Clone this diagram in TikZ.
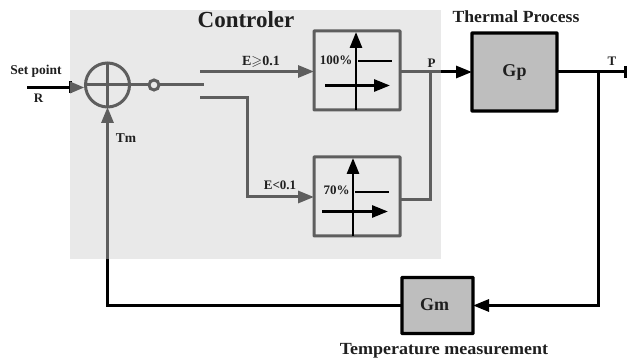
\documentclass[tikz,border=0pt]{standalone}
\usepackage{amssymb}
\usepackage{fontspec}
\setmainfont{Liberation Serif}
\usetikzlibrary{arrows.meta,calc}
\definecolor{ctl}{HTML}{E9E9E9}
\definecolor{gl}{HTML}{5E5E5E}
\definecolor{bl}{HTML}{BEBEBE}
\tikzset{
  lab/.style={font=\bfseries\fontsize{#1}{#1}\selectfont,inner sep=0pt,text=black!88},
  graybox/.style={draw=gl,line width=3pt,minimum width=86pt,minimum height=79pt,outer sep=0pt,rounded corners=0.6pt},
  blackbox/.style={draw=black,fill=bl,line width=3.4pt,outer sep=0pt,rounded corners=0.6pt},
  gline/.style={draw=gl,line width=3pt},
  kline/.style={draw=black,line width=3pt},
  ktip/.style={-{Triangle[length=16pt,width=12pt]}},
  gtip/.style={-{Triangle[length=16pt,width=12pt]}},
  ink/.style={draw=black,line width=2.8pt},
  inktip/.style={-{Triangle[length=16pt,width=12pt]}},
}
\begin{document}
\begin{tikzpicture}[x=1pt,y=-1pt]
\useasboundingbox (0,0) rectangle (627,363);
\fill[ctl] (70,10) rectangle (441,259);
% nodes
\node[circle,draw=gl,line width=3pt,minimum size=44pt,inner sep=0pt,outer sep=0pt] (sum) at (107.5,85) {};
\node[circle,draw=gl,line width=3pt,minimum size=10pt,inner sep=0pt,outer sep=0pt] (sw) at (154,85) {};
\node[graybox] (on) at (357,70.5) {};
\node[graybox] (off) at (357,196.5) {};
\node[blackbox,minimum width=85pt,minimum height=78pt] (gp) at (514.5,72) {};
\node[blackbox,minimum width=71pt,minimum height=56pt] (gm) at (437.5,305.5) {};
% coordinates
\coordinate (in) at (27,87.5);
\coordinate (inb) at (70,87.5);
\coordinate (swe) at (204,85);
\coordinate (ua) at (200,71.5);
\coordinate (la) at (200,97.5);
\coordinate (lb) at (247,97.5);
\coordinate (lc) at (247,197);
\coordinate (pj) at (430,72);
\coordinate (pb) at (441,72);
\coordinate (po) at (430,200);
\coordinate (tj) at (598.5,72);
\coordinate (tend) at (625,72);
\coordinate (td) at (598.5,305.5);
\coordinate (fbc) at (107.5,305.5);
\coordinate (fbe) at (107.5,259);
% relay glyph end points
\coordinate (ov0) at (356,110);
\coordinate (ov1) at (356,32);
\coordinate (oh0) at (358,61);
\coordinate (oh1) at (392,61);
\coordinate (oa0) at (325,85.5);
\coordinate (oa1) at (390,85.5);
\coordinate (fv0) at (353,236);
\coordinate (fv1) at (353,158);
\coordinate (fh0) at (355,192);
\coordinate (fh1) at (389,192);
\coordinate (fa0) at (322,211.5);
\coordinate (fa1) at (388,211.5);
% sum cross
\draw[gline] (sum.north) -- (sum.south);
\draw[gline] (sum.west) -- (sum.east);
% input
\draw[kline] (in) -- (inb);
\draw[draw=black,line width=1pt,fill=black] (69,81.5) rectangle (71,93);
\fill[gl] (84,87.5) -- (70,81.5) -- (70,93.5) -- cycle;
% switch
\draw[gline] (sum.east) -- (sw.west);
\draw[gline] (sw.east) -- (swe);
\draw[gline,gtip] (ua) -- (ua -| on.west);
\draw[gline,gtip] (la) -- (lb) -- (lc) -- (lc -| off.west);
% outputs
\draw[gline] (on.east |- pj) -- (pb);
\draw[gline] (off.east |- po) -- (po) -- (pj);
\draw[kline,ktip] (pb) -- (gp.west);
% plant
\draw[kline] (gp.east) -- (tend);
\draw[draw=black,line width=3pt] (625,66) -- (625,78);
\draw[kline,ktip] (tj) -- (td) -- (gm.east);
\draw[kline] (gm.west) -- (fbc) -- (fbe);
\draw[gline,gtip] (fbe) -- (sum.south);
% relay glyphs
\draw[ink,inktip] (ov0) -- (ov1);
\draw[ink] (oh0) -- (oh1);
\draw[ink,inktip] (oa0) -- (oa1);
\draw[ink,inktip] (fv0) -- (fv1);
\draw[ink] (fh0) -- (fh1);
\draw[ink,inktip] (fa0) -- (fa1);
% texts
\node[lab=23] at (246,20) {Controler};
\node[lab=17,xscale=1.04] at (516,17) {Thermal Process};
\node[lab=13.5] at (36,71) {Set point};
\node[lab=13] at (38.5,98) {R};
\node[lab=13.5] at (126,138.5) {Tm};
\node[lab=14] at (261,61.5) {E$\geqslant$0.1};
\node[lab=13] at (280,185.5) {E<0.1};
\node[lab=13] at (336,60) {100\%};
\node[lab=13] at (336.5,190.5) {70\%};
\node[lab=13] at (431.5,63) {P};
\node[lab=13] at (612,61) {T};
\node[lab=18] at (514.5,72) {Gp};
\node[lab=18] at (434.5,305) {Gm};
\node[lab=17,xscale=1.06] at (444,351) {Temperature measurement};
\end{tikzpicture}
\end{document}
